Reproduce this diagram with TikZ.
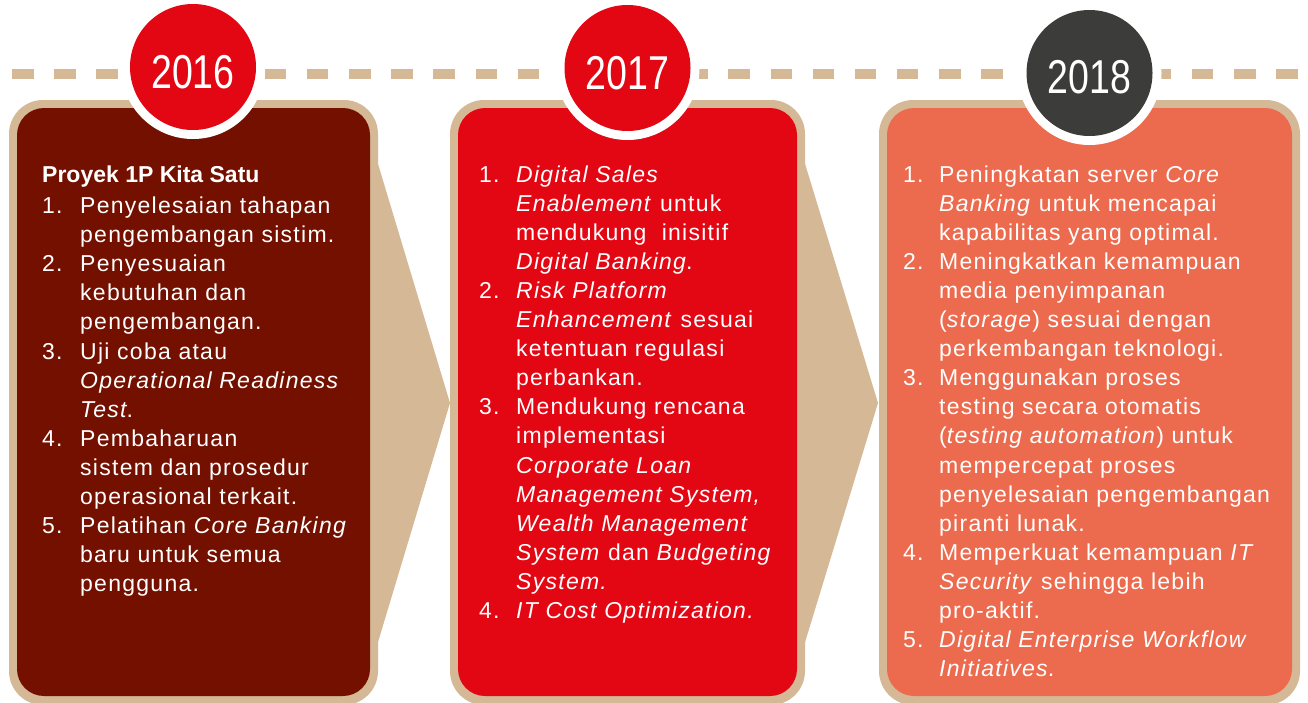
\documentclass[tikz,border=0pt]{standalone}
\usepackage{fontspec}
\usepackage{graphicx}
\newfontfamily\bodyfont{Liberation Sans}[LetterSpace=5.5]
\newfontfamily\headfont{Liberation Sans}
\newfontfamily\yearfont{Liberation Sans}
\definecolor{tanc}{RGB}{213,185,150}
\definecolor{pdark}{RGB}{115,16,0}
\definecolor{pred}{RGB}{227,6,19}
\definecolor{porange}{RGB}{236,106,77}
\definecolor{cgray}{RGB}{60,60,59}
\tikzset{
  txt/.style={anchor=base west, inner sep=0pt, text=white, font=\bodyfont\fontsize{23}{28}\selectfont},
  headtxt/.style={anchor=base west, inner sep=0pt, text=white, font=\headfont\bfseries\fontsize{23}{28}\selectfont},
  yr/.style={anchor=base, inner sep=0pt, text=white, font=\yearfont\fontsize{47.5}{50}\selectfont},
  ring/.style={circle, fill=white, minimum size=144pt, inner sep=0pt},
  yearcirc/.style={circle, minimum size=126pt, inner sep=0pt},
  arrowfill/.style={fill=tanc},
}
\begin{document}
\begin{tikzpicture}[x=1pt,y=-1pt]
\useasboundingbox (0,0) rectangle (1308,702);
\fill[white] (0,0) rectangle (1308,702);
% arrows
\fill[arrowfill] (372,144) -- (450,403) -- (372,662) -- cycle;
\fill[arrowfill] (799,144) -- (878,403) -- (799,662) -- cycle;
% panels
\fill[tanc, rounded corners=34pt] (9,100) rectangle (378,705);
\fill[pdark, rounded corners=27pt] (17,108) rectangle (370,696);
\fill[tanc, rounded corners=34pt] (450,100) rectangle (805,705);
\fill[pred, rounded corners=27pt] (458,108) rectangle (797,696);
\fill[tanc, rounded corners=34pt] (879,100) rectangle (1300,705);
\fill[porange, rounded corners=27pt] (887,108) rectangle (1292,696);
% dashed line
\coordinate (dl) at (12,74);
\coordinate (dr) at (1308,74);
\draw[tanc, line width=10pt, dash pattern=on 21.5pt off 20.64pt] (dl) -- (dr);
% year circles
\node[ring] (w16) at (193,67) {};
\node[yearcirc, fill=pred] (c16) at (193,67) {};
\node[yr] (y16) at (193,88.5) {\scalebox{0.79}[1]{2016}};
\node[ring] (w17) at (627.5,68) {};
\node[yearcirc, fill=pred] (c17) at (627.5,68) {};
\node[yr] (y17) at (627.5,89.5) {\scalebox{0.79}[1]{2017}};
\node[ring] (w18) at (1089.5,73) {};
\node[yearcirc, fill=cgray] (c18) at (1089.5,73) {};
\node[yr] (y18) at (1089.5,93) {\scalebox{0.79}[1]{2018}};
% panel 1
\node[headtxt] (h1) at (42,182) {Proyek 1P Kita Satu};
\foreach \t [count=\i] in {
  {Penyelesaian tahapan},
  {pengembangan sistim.},
  {Penyesuaian},
  {kebutuhan dan},
  {pengembangan.},
  {Uji coba atau},
  {\textit{Operational Readiness}},
  {\textit{Test}.},
  {Pembaharuan},
  {sistem dan prosedur},
  {operasional terkait.},
  {Pelatihan \textit{Core Banking}},
  {baru untuk semua},
  {pengguna.}}
  \node[txt] (pa\i) at (80,{213.5+29.1*(\i-1)}) {\t};
\foreach \n/\l in {1/1,2/3,3/6,4/9,5/12}
  \node[txt] (na\n) at (42,{213.5+29.1*(\l-1)}) {\n.};
% panel 2
\foreach \t [count=\i] in {
  {\textit{Digital Sales}},
  {\textit{Enablement} untuk},
  {mendukung\ \ inisitif},
  {\textit{Digital Banking}.},
  {\textit{Risk Platform}},
  {\textit{Enhancement} sesuai},
  {ketentuan regulasi},
  {perbankan.},
  {Mendukung rencana},
  {implementasi},
  {\textit{Corporate Loan}},
  {\textit{Management System,}},
  {\textit{Wealth Management}},
  {\textit{System} dan \textit{Budgeting}},
  {\textit{System.}},
  {\textit{IT Cost Optimization.}}}
  \node[txt] (pb\i) at (516,{182+29.1*(\i-1)}) {\t};
\foreach \n/\l in {1/1,2/5,3/9,4/16}
  \node[txt] (nb\n) at (479,{182+29.1*(\l-1)}) {\n.};
% panel 3
\foreach \t [count=\i] in {
  {Peningkatan server \textit{Core}},
  {\textit{Banking} untuk mencapai},
  {kapabilitas yang optimal.},
  {Meningkatkan kemampuan},
  {media penyimpanan},
  {(\textit{storage}) sesuai dengan},
  {perkembangan teknologi.},
  {Menggunakan proses},
  {testing secara otomatis},
  {(\textit{testing automation}) untuk},
  {mempercepat proses},
  {penyelesaian pengembangan},
  {piranti lunak.},
  {Memperkuat kemampuan \textit{IT}},
  {\textit{Security} sehingga lebih},
  {pro-aktif.},
  {\textit{Digital Enterprise Workflow}},
  {\textit{Initiatives.}}}
  \node[txt] (pc\i) at (939,{182+29.1*(\i-1)}) {\t};
\foreach \n/\l in {1/1,2/4,3/8,4/14,5/17}
  \node[txt] (nc\n) at (903,{182+29.1*(\l-1)}) {\n.};
\end{tikzpicture}
\end{document}
